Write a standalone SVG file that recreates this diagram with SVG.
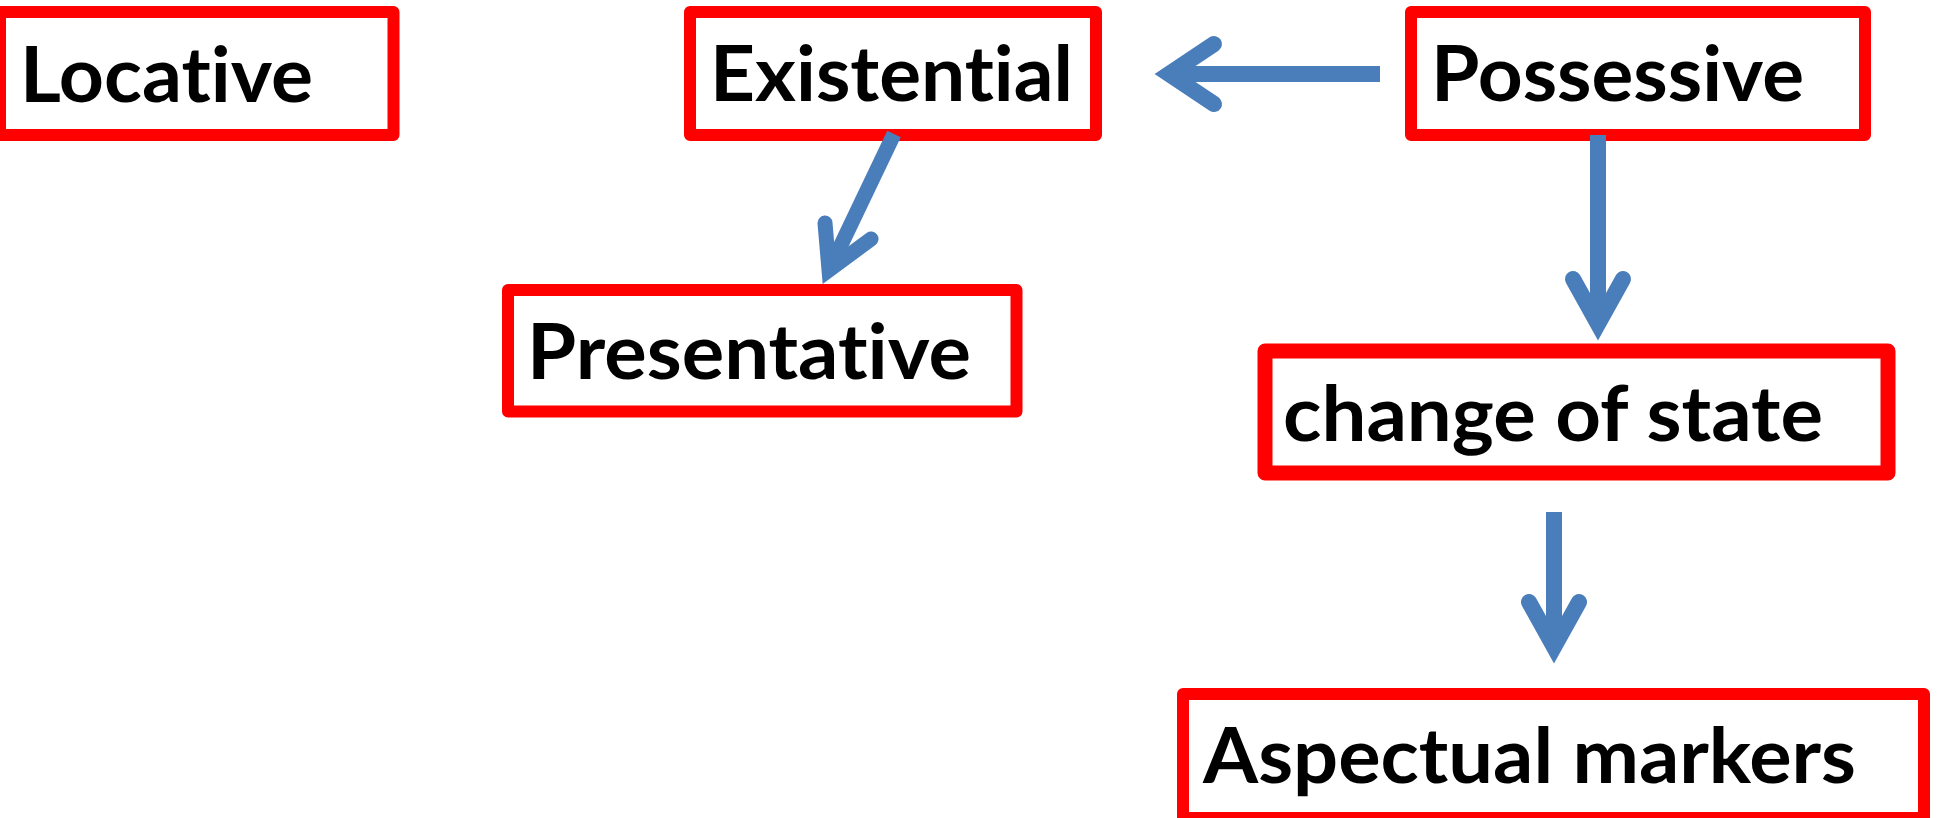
<svg xmlns="http://www.w3.org/2000/svg" width="1940" height="818" viewBox="0 0 1940 818">
<style>
.box{fill:#FFFFFF;stroke:#FF0000;stroke-width:12;stroke-linejoin:round}
.thick{stroke-width:15}
.lbl{font-family:"Lato","Liberation Sans",sans-serif;font-weight:bold;font-size:77px;fill:#000000;font-variant-ligatures:none;font-feature-settings:"liga" 0,"clig" 0}
.shaft{fill:none;stroke:#4A7EBB;stroke-width:16;stroke-linecap:butt}
.head{fill:none;stroke:#4A7EBB;stroke-width:16;stroke-linecap:round;stroke-linejoin:miter;stroke-miterlimit:10}
</style>
<rect width="1940" height="818" fill="#FFFFFF"/>
<g id="locative">
<rect class="box" x="0" y="12" width="393.5" height="123"/>
<text class="lbl" x="20" y="102" textLength="293" lengthAdjust="spacingAndGlyphs">Locative</text>
</g>
<g id="existential">
<rect class="box" x="690" y="12" width="406" height="123"/>
<text class="lbl" x="710" y="101" textLength="363" lengthAdjust="spacingAndGlyphs">Existential</text>
</g>
<g id="possessive">
<rect class="box" x="1411" y="12" width="454" height="123"/>
<text class="lbl" x="1431" y="101" textLength="373" lengthAdjust="spacingAndGlyphs">Possessive</text>
</g>
<g id="presentative">
<rect class="box" x="508" y="290" width="508.5" height="121.5"/>
<text class="lbl" x="527" y="379" textLength="444" lengthAdjust="spacingAndGlyphs">Presentative</text>
</g>
<g id="change-of-state">
<rect class="box thick" x="1265" y="351" width="623" height="122"/>
<text class="lbl" x="1283" y="441" textLength="540" lengthAdjust="spacingAndGlyphs">change of state</text>
</g>
<g id="aspectual-markers">
<rect class="box" x="1183" y="694" width="741" height="124"/>
<text class="lbl" x="1203" y="783" textLength="653" lengthAdjust="spacingAndGlyphs">Aspectual markers</text>
</g>
<g id="connectors">
<line class="shaft" x1="1380" y1="74" x2="1172" y2="74"/>
<polyline class="head" points="1214,44 1169,74 1214,104"/>
<line class="shaft" x1="894" y1="134" x2="830" y2="268" style="stroke-width:15"/>
<polyline class="head" points="825,223 829,270 871,239" style="stroke-width:15"/>
<line class="shaft" x1="1598" y1="135" x2="1598" y2="320"/>
<polyline class="head" points="1573,279 1598,324 1623,279"/>
<line class="shaft" x1="1554" y1="512" x2="1554" y2="643"/>
<polyline class="head" points="1529,602 1554,647 1579,602"/>
</g>
</svg>
